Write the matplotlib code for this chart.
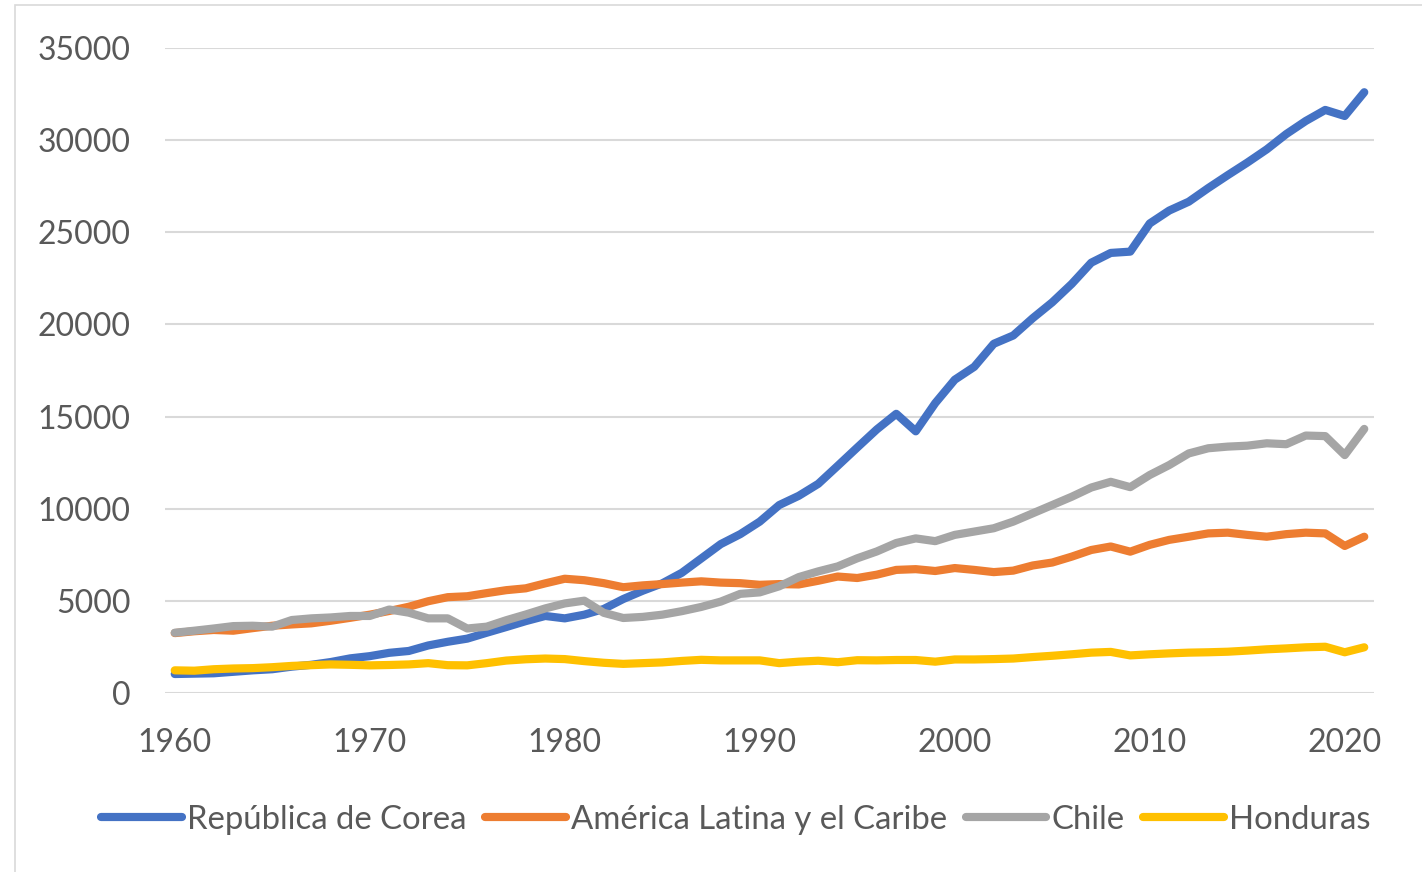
import matplotlib
matplotlib.use("Agg")
import matplotlib.pyplot as plt
from matplotlib.patches import Rectangle

years = list(range(1960, 2022))

korea = [1030, 1050, 1070, 1150, 1230, 1290, 1430, 1530, 1680, 1880,
         2000, 2180, 2280, 2580, 2780, 2950, 3270, 3580, 3900, 4180,
         4050, 4250, 4560, 5100, 5550, 5950, 6520, 7300, 8080, 8620,
         9300, 10200, 10700, 11350, 12330, 13320, 14300, 15150, 14200, 15730,
         17000, 17700, 18950, 19400, 20340, 21200, 22200, 23350, 23880, 23950,
         25480, 26180, 26660, 27400, 28100, 28780, 29500, 30330, 31040, 31640,
         31310, 32600]

latam = [3250, 3350, 3420, 3380, 3520, 3650, 3720, 3780, 3920, 4080,
         4250, 4450, 4680, 4980, 5200, 5250, 5420, 5580, 5680, 5950,
         6200, 6120, 5960, 5740, 5840, 5910, 5990, 6060, 5990, 5960,
         5870, 5910, 5890, 6090, 6320, 6240, 6420, 6680, 6720, 6620,
         6780, 6680, 6560, 6640, 6920, 7080, 7400, 7760, 7950, 7670,
         8040, 8310, 8480, 8660, 8700, 8580, 8480, 8620, 8700, 8660,
         7980, 8480]

chile = [3270, 3380, 3500, 3630, 3650, 3600, 3960, 4050, 4100, 4180,
         4180, 4530, 4360, 4050, 4050, 3500, 3600, 3950, 4260, 4590,
         4860, 5010, 4350, 4070, 4130, 4250, 4440, 4670, 4960, 5380,
         5460, 5790, 6290, 6600, 6870, 7310, 7680, 8140, 8390, 8240,
         8580, 8760, 8940, 9300, 9750, 10200, 10650, 11150, 11460, 11170,
         11830, 12370, 13000, 13280, 13370, 13420, 13550, 13500, 13970, 13940,
         12910, 14330]

honduras = [1230, 1210, 1290, 1330, 1350, 1400, 1470, 1510, 1550, 1530,
            1500, 1520, 1550, 1620, 1510, 1500, 1620, 1760, 1830, 1870,
            1840, 1730, 1640, 1580, 1620, 1660, 1740, 1800, 1770, 1770,
            1770, 1620, 1700, 1750, 1670, 1780, 1770, 1790, 1790, 1700,
            1820, 1820, 1840, 1870, 1950, 2020, 2100, 2190, 2230, 2040,
            2100, 2150, 2190, 2210, 2240, 2300, 2370, 2420, 2480, 2510,
            2210, 2480]

series_names = ["República de Corea", "América Latina y el Caribe", "Chile", "Honduras"]
series_values = [korea, latam, chile, honduras]
series_colors = ["#4472C4", "#ED7D31", "#A5A5A5", "#FFC000"]

x_ticks = [1960, 1970, 1980, 1990, 2000, 2010, 2020]
y_ticks = [0, 5000, 10000, 15000, 20000, 25000, 30000, 35000]

plt.rcParams['font.family'] = ['Lato', 'DejaVu Sans']

W, H = 1422, 872
fig = plt.figure(figsize=(W / 100, H / 100), dpi=100)
fig.patches.append(Rectangle((15 / W, -0.01), 1.05, 1 - 5 / H + 0.01,
                             transform=fig.transFigure, fill=False,
                             edgecolor="#D9D9D9", linewidth=1.2))

ax = fig.add_axes([165 / W, 1 - 693 / H, (1374 - 165) / W, (693 - 48) / H])
for name, vals, col in zip(series_names, series_values, series_colors):
    ax.plot(years, vals, color=col, linewidth=5.9, label=name,
            solid_capstyle='round', solid_joinstyle='round')

ax.set_xlim(1959.5, 2021.5)
ax.set_ylim(0, 35000)
ax.set_xticks(x_ticks)
ax.set_yticks(y_ticks)
ax.set_xticklabels([str(t) for t in x_ticks])
ax.set_yticklabels([str(t) for t in y_ticks])
ax.grid(axis='y', color="#D9D9D9", linewidth=1.5)
ax.set_axisbelow(True)
for s in ax.spines.values():
    s.set_visible(False)
ax.tick_params(axis='both', length=0, labelsize=23, labelcolor="#595959")
ax.tick_params(axis='x', pad=25)
ax.tick_params(axis='y', pad=25)

leg = fig.legend(loc='center', bbox_to_anchor=(736 / W, 1 - 820 / H), ncol=4,
                 frameon=False, fontsize=23.7, handlelength=2.45,
                 handletextpad=0.17, columnspacing=0.55, labelcolor="#595959")
for line in leg.get_lines():
    line.set_linewidth(5.9)
    line.set_solid_capstyle('round')

fig.savefig("out.png", dpi=100)
